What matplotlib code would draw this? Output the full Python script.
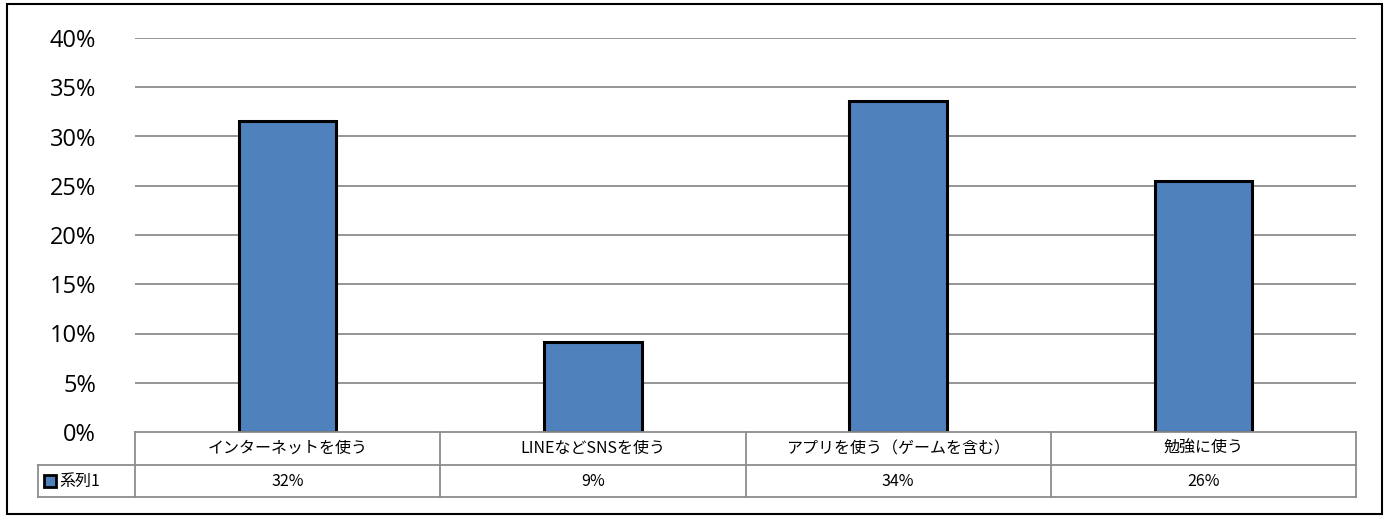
import matplotlib
matplotlib.use("Agg")
import matplotlib.pyplot as plt
from matplotlib.patches import Rectangle
from matplotlib.lines import Line2D

plt.rcParams['font.family'] = ['Noto Sans CJK JP', 'DejaVu Sans']

# data
categories = ["インターネットを使う", "LINEなどSNSを使う", "アプリを使う（ゲームを含む）", "勉強に使う"]
values = [31.6, 9.1, 33.6, 25.5]
value_labels = ["32%", "9%", "34%", "26%"]
series_name = "系列1"
yticks = [0, 5, 10, 15, 20, 25, 30, 35, 40]

W, H = 1388, 520
fig = plt.figure(figsize=(W / 100, H / 100), dpi=100)

# plot area in pixel terms
left, right, top, bottom = 135, 1356, 38, 432
ax = fig.add_axes([left / W, 1 - bottom / H, (right - left) / W, (bottom - top) / H])

x = list(range(len(categories)))
ax.bar(x, values, width=0.32, color="#4F81BD", edgecolor="black", linewidth=2.2, zorder=3)
ax.set_xlim(-0.5, len(categories) - 0.5)
ax.set_ylim(0, 40)
ax.set_yticks(yticks)
ax.set_yticklabels([f"{t}%" for t in yticks], fontsize=17, family=['Open Sans', 'DejaVu Sans'])
ax.tick_params(axis='y', length=0, pad=28)
ax.set_xticks([])
for t in yticks[1:]:
    ax.axhline(t, color="#8c8c8c", linewidth=1.3, zorder=1)
for s in ax.spines.values():
    s.set_visible(False)

# data table below the axes
row1_top, row1_bot, row2_bot = 432, 465, 497
legend_left = 38
cell_w = (right - left) / len(categories)
grid_col = "#8c8c8c"

def fx(px):
    return px / W

def fy(py):
    return 1 - py / H

lines = []
# horizontal lines
lines.append(((left, right), (row1_top, row1_top)))
lines.append(((legend_left, right), (row1_bot, row1_bot)))
lines.append(((legend_left, right), (row2_bot, row2_bot)))
# vertical lines
for i in range(len(categories) + 1):
    xp = left + i * cell_w
    lines.append(((xp, xp), (row1_top, row2_bot)))
lines.append(((legend_left, legend_left), (row1_bot, row2_bot)))
for (xs, ys) in lines:
    fig.add_artist(Line2D([fx(v) for v in xs], [fy(v) for v in ys], color=grid_col, linewidth=1.3))

for i, (cat, lab) in enumerate(zip(categories, value_labels)):
    cx = left + (i + 0.5) * cell_w
    fig.text(fx(cx), fy((row1_top + row1_bot) / 2), cat, ha="center", va="center", fontsize=11.5)
    fig.text(fx(cx), fy((row1_bot + row2_bot) / 2), lab, ha="center", va="center", fontsize=11.5)

# legend key in table
ky = (row1_bot + row2_bot) / 2
fig.add_artist(Rectangle((fx(44), fy(ky + 6)), 12 / W, 12 / H, facecolor="#4F81BD",
                         edgecolor="black", linewidth=2))
fig.text(fx(59), fy(ky), series_name, ha="left", va="center", fontsize=11.5)

# outer chart border
fig.add_artist(Rectangle((fx(7), fy(514)), (1382 - 7) / W, (514 - 4) / H, fill=False,
                         edgecolor="black", linewidth=1.5))

fig.savefig("out.png", dpi=100)
